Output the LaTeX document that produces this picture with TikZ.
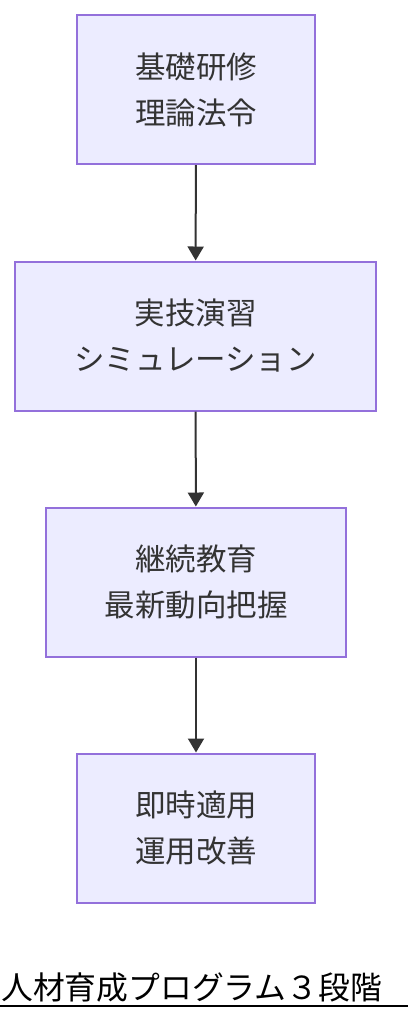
\documentclass[tikz,border=0pt]{standalone}
\usepackage{fontspec}
\newfontfamily\cjk{Noto Sans CJK JP}
\usetikzlibrary{arrows.meta}
\definecolor{stagefill}{HTML}{ECECFF}
\definecolor{stageline}{HTML}{9370DB}
\definecolor{ink}{HTML}{333333}
\tikzset{
  stage/.style={draw=stageline,fill=stagefill,line width=2pt,minimum height=149pt,
    align=center,text=ink,font=\cjk\fontsize{30.5pt}{46pt}\selectfont},
  flow/.style={draw=ink,line width=2pt,-{Triangle[length=14pt,width=16pt]}}
}
\begin{document}
\begin{tikzpicture}[x=1pt,y=-1pt]
\useasboundingbox (0,0) rectangle (408,1020);
\node[stage,minimum width=238pt](basic) at (196,89.5){基礎研修\\理論法令};
\node[stage,minimum width=361pt](practice) at (195.5,336){実技演習\\シミュレーション};
\node[stage,minimum width=300pt](further) at (196,582){継続教育\\最新動向把握};
\node[stage,minimum width=238pt](apply) at (196,828){即時適用\\運用改善};
\draw[flow](basic)--(practice);
\draw[flow](practice)--(further);
\draw[flow](further)--(apply);
\node[anchor=west,inner xsep=0pt,font=\cjk\fontsize{31.8pt}{36pt}\selectfont](title) at (1,987){人材育成プログラム３段階};
\draw[line width=2pt](0,1006)--(408,1006);
\end{tikzpicture}
\end{document}
